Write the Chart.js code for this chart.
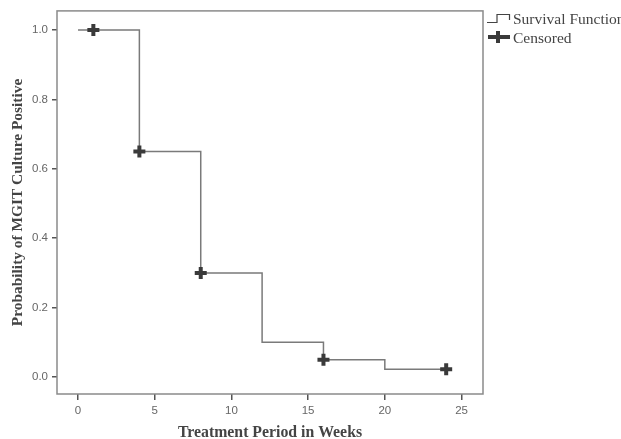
<!DOCTYPE html>
<html>
<head>
<meta charset="utf-8">
<script src="https://cdn.jsdelivr.net/npm/chart.js@4.4.0/dist/chart.umd.min.js"></script>
<style>
html,body{margin:0;padding:0;background:#fff;}
#wrap{width:621px;height:439px;}
</style>
</head>
<body>
<div id="wrap"><canvas id="c" width="621" height="439"></canvas></div>
<script>
// Step (survival) function: time in weeks and survival probability
const stepTimes = [0, 4, 8, 12, 16, 20, 24];
const stepSurvival = [1.0, 0.65, 0.30, 0.10, 0.05, 0.022, 0.022];
// Censored observations
const censorTimes = [1, 4, 8, 16, 24];
const censorSurvival = [1.0, 0.65, 0.30, 0.05, 0.022];
// Tick values
const xTicks = [0, 5, 10, 15, 20, 25];
const yTicks = [0.0, 0.2, 0.4, 0.6, 0.8, 1.0];
const legendLabels = ['Survival Function', 'Censored'];

const stepData = stepTimes.map((t, i) => ({x: t, y: stepSurvival[i]}));
const censorData = censorTimes.map((t, i) => ({x: t, y: censorSurvival[i]}));

const framePlugin = {
  id: 'frame',
  afterDatasetsDraw(chart) {
    const {ctx, chartArea: a} = chart;
    ctx.save();
    ctx.strokeStyle = '#8a8a8a';
    ctx.lineWidth = 1.5;
    ctx.strokeRect(a.left, a.top, a.right - a.left, a.bottom - a.top);
    ctx.restore();
  },
  afterDraw(chart) {
    const {ctx} = chart;
    ctx.save();
    ctx.strokeStyle = '#444';
    ctx.lineWidth = 1.2;
    ctx.beginPath();
    ctx.moveTo(487, 22.5);
    ctx.lineTo(497, 22.5);
    ctx.lineTo(497, 14.5);
    ctx.lineTo(509.5, 14.5);
    ctx.lineTo(509.5, 20);
    ctx.stroke();
    ctx.strokeStyle = '#3a3a3a';
    ctx.lineWidth = 4;
    ctx.beginPath();
    ctx.moveTo(488, 37);
    ctx.lineTo(510, 37);
    ctx.moveTo(498, 31);
    ctx.lineTo(498, 43);
    ctx.stroke();
    ctx.fillStyle = '#444';
    ctx.font = '15.5px "Liberation Serif", "Times New Roman", serif';
    ctx.textBaseline = 'alphabetic';
    ctx.fillText(legendLabels[0], 513, 24);
    ctx.fillText(legendLabels[1], 513, 43);
    ctx.restore();
  }
};

new Chart(document.getElementById('c'), {
  type: 'scatter',
  data: {
    datasets: [
      {
        label: legendLabels[0],
        type: 'line',
        data: stepData,
        stepped: 'before',
        borderColor: '#7a7a7a',
        borderWidth: 1.5,
        pointRadius: 0,
        fill: false,
        order: 2
      },
      {
        label: legendLabels[1],
        data: censorData,
        pointStyle: 'cross',
        pointRadius: 6,
        pointBorderWidth: 4,
        borderColor: '#3a3a3a',
        backgroundColor: '#3a3a3a',
        order: 1
      }
    ]
  },
  options: {
    responsive: false,
    animation: false,
    events: [],
    layout: {padding: {left: 0, top: 10, right: 138, bottom: 0}},
    plugins: {legend: {display: false}, tooltip: {enabled: false}},
    scales: {
      x: {
        type: 'linear',
        min: -1.37,
        max: 26.4,
        afterFit(s) { s.height = 45; },
        afterBuildTicks(s) { s.ticks = xTicks.map(v => ({value: v})); },
        grid: {display: true, drawOnChartArea: false, drawTicks: true, tickLength: 6, color: '#555', lineWidth: 1.5},
        border: {display: false},
        ticks: {color: '#666', font: {family: '"Liberation Sans", Arial, sans-serif', size: 11.5}, padding: 4, maxRotation: 0},
        title: {display: true, text: 'Treatment Period in Weeks', color: '#444',
          font: {family: '"Liberation Serif", "Times New Roman", serif', size: 15.8, weight: 'bold', lineHeight: 0.8},
          padding: {top: 0, bottom: 0}}
      },
      y: {
        type: 'linear',
        min: -0.049,
        max: 1.055,
        afterFit(s) { s.width = 57; },
        afterBuildTicks(s) { s.ticks = yTicks.map(v => ({value: v})); },
        grid: {display: true, drawOnChartArea: false, drawTicks: true, tickLength: 5, color: '#555', lineWidth: 1.5},
        border: {display: false},
        ticks: {color: '#666', font: {family: '"Liberation Sans", Arial, sans-serif', size: 11.5}, padding: 4,
          callback: v => v.toFixed(1)},
        title: {display: true, text: 'Probability of MGIT Culture Positive', color: '#444',
          font: {family: '"Liberation Serif", "Times New Roman", serif', size: 15.4, weight: 'bold', lineHeight: 1.0},
          padding: {top: 10, bottom: 0}}
      }
    }
  },
  plugins: [framePlugin]
});
</script>
</body>
</html>
